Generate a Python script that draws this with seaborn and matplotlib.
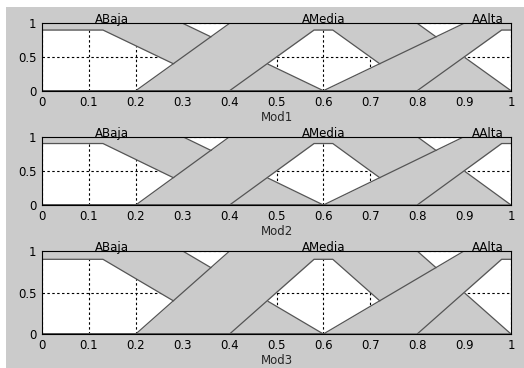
import numpy as np
import pandas as pd
import matplotlib
matplotlib.use("Agg")
import matplotlib.pyplot as plt
from matplotlib.patches import Rectangle
import seaborn as sns

# ---- data: interval type-2 membership functions (upper / lower) ----
set_names = ["ABaja", "AMedia", "AAlta"]
label_x = [0.15, 0.60, 0.95]

abaja_umf_x = [0.0, 0.3, 0.6, 1.0]
abaja_umf_y = [1.0, 1.0, 0.0, 0.0]
abaja_lmf_x = [0.0, 0.13, 0.4, 1.0]
abaja_lmf_y = [0.9, 0.9, 0.0, 0.0]

amedia_umf_x = [0.0, 0.2, 0.4, 0.8, 1.0]
amedia_umf_y = [0.0, 0.0, 1.0, 1.0, 0.0]
amedia_lmf_x = [0.0, 0.4, 0.58, 0.62, 0.8, 1.0]
amedia_lmf_y = [0.0, 0.0, 0.9, 0.9, 0.0, 0.0]

aalta_umf_x = [0.0, 0.6, 0.9, 1.0]
aalta_umf_y = [0.0, 0.0, 1.0, 1.0]
aalta_lmf_x = [0.0, 0.8, 0.98, 1.0]
aalta_lmf_y = [0.0, 0.0, 0.9, 0.9]

subplot_titles = ["Mod1", "Mod2", "Mod3"]
x_ticks = [0, 0.1, 0.2, 0.3, 0.4, 0.5, 0.6, 0.7, 0.8, 0.9, 1]
x_tick_labels = ["0", "0.1", "0.2", "0.3", "0.4", "0.5", "0.6", "0.7", "0.8", "0.9", "1"]
y_ticks = [0, 0.5, 1]
y_tick_labels = ["0", "0.5", "1"]

sets = [
    (abaja_umf_x, abaja_umf_y, abaja_lmf_x, abaja_lmf_y),
    (amedia_umf_x, amedia_umf_y, amedia_lmf_x, amedia_lmf_y),
    (aalta_umf_x, aalta_umf_y, aalta_lmf_x, aalta_lmf_y),
]

sns.set_style("white")
plt.rcParams["font.family"] = ["DejaVu Sans"]

GRAY = "#cbcbcb"
LINE = "#555555"
FS = 8.5

fig = plt.figure(figsize=(5.24, 3.68), dpi=100, facecolor="white")
fig.patches.append(Rectangle((6 / 524, 0), 1 - 6 / 524, 1 - 7 / 368,
                             transform=fig.transFigure, facecolor=GRAY,
                             edgecolor="none", zorder=-5))

positions = [
    [42 / 524, 1 - 90.7 / 368, 469 / 524, 67.4 / 368],
    [42 / 524, 1 - 205 / 368, 469 / 524, 68.3 / 368],
    [42 / 524, 1 - 334 / 368, 469 / 524, 83 / 368],
]

for k, pos in enumerate(positions):
    ax = fig.add_axes(pos)
    ax.set_facecolor("white")
    for i, (ux, uy, lx, ly) in enumerate(sets):
        grid = np.unique(np.concatenate([ux, lx]))
        up = np.interp(grid, ux, uy)
        lo = np.interp(grid, lx, ly)
        z = 3 + 2 * i
        ax.fill_between(grid, lo, up, color=GRAY, linewidth=0, zorder=z)
        df_u = pd.DataFrame({"x": ux, "y": uy})
        df_l = pd.DataFrame({"x": lx, "y": ly})
        sns.lineplot(data=df_u, x="x", y="y", ax=ax, estimator=None, sort=False,
                     color=LINE, linewidth=0.9, zorder=z + 1)
        sns.lineplot(data=df_l, x="x", y="y", ax=ax, estimator=None, sort=False,
                     color=LINE, linewidth=0.9, zorder=z + 1)
        ax.text(label_x[i], 1.0, set_names[i], ha="center", va="baseline",
                fontsize=FS, color="black", zorder=30)
    ax.set_xlim(0, 1)
    ax.set_ylim(0, 1)
    ax.set_xticks(x_ticks)
    ax.set_xticklabels(x_tick_labels)
    ax.set_yticks(y_ticks)
    ax.set_yticklabels(y_tick_labels)
    ax.tick_params(axis="both", length=0, labelsize=FS, colors="black")
    ax.tick_params(axis="x", pad=3.5)
    ax.tick_params(axis="y", pad=4)
    ax.grid(True, color="black", linestyle=(0, (2.2, 2.2)), linewidth=0.8, zorder=1.5)
    ax.set_axisbelow("line")
    for sp in ax.spines.values():
        sp.set_visible(True)
        sp.set_color("black")
        sp.set_linewidth(0.8)
        sp.set_zorder(20)
    ax.set_xlabel(subplot_titles[k], fontsize=FS, labelpad=1.5)
    ax.set_ylabel("")

fig.savefig("out.png", dpi=100, facecolor="white")
